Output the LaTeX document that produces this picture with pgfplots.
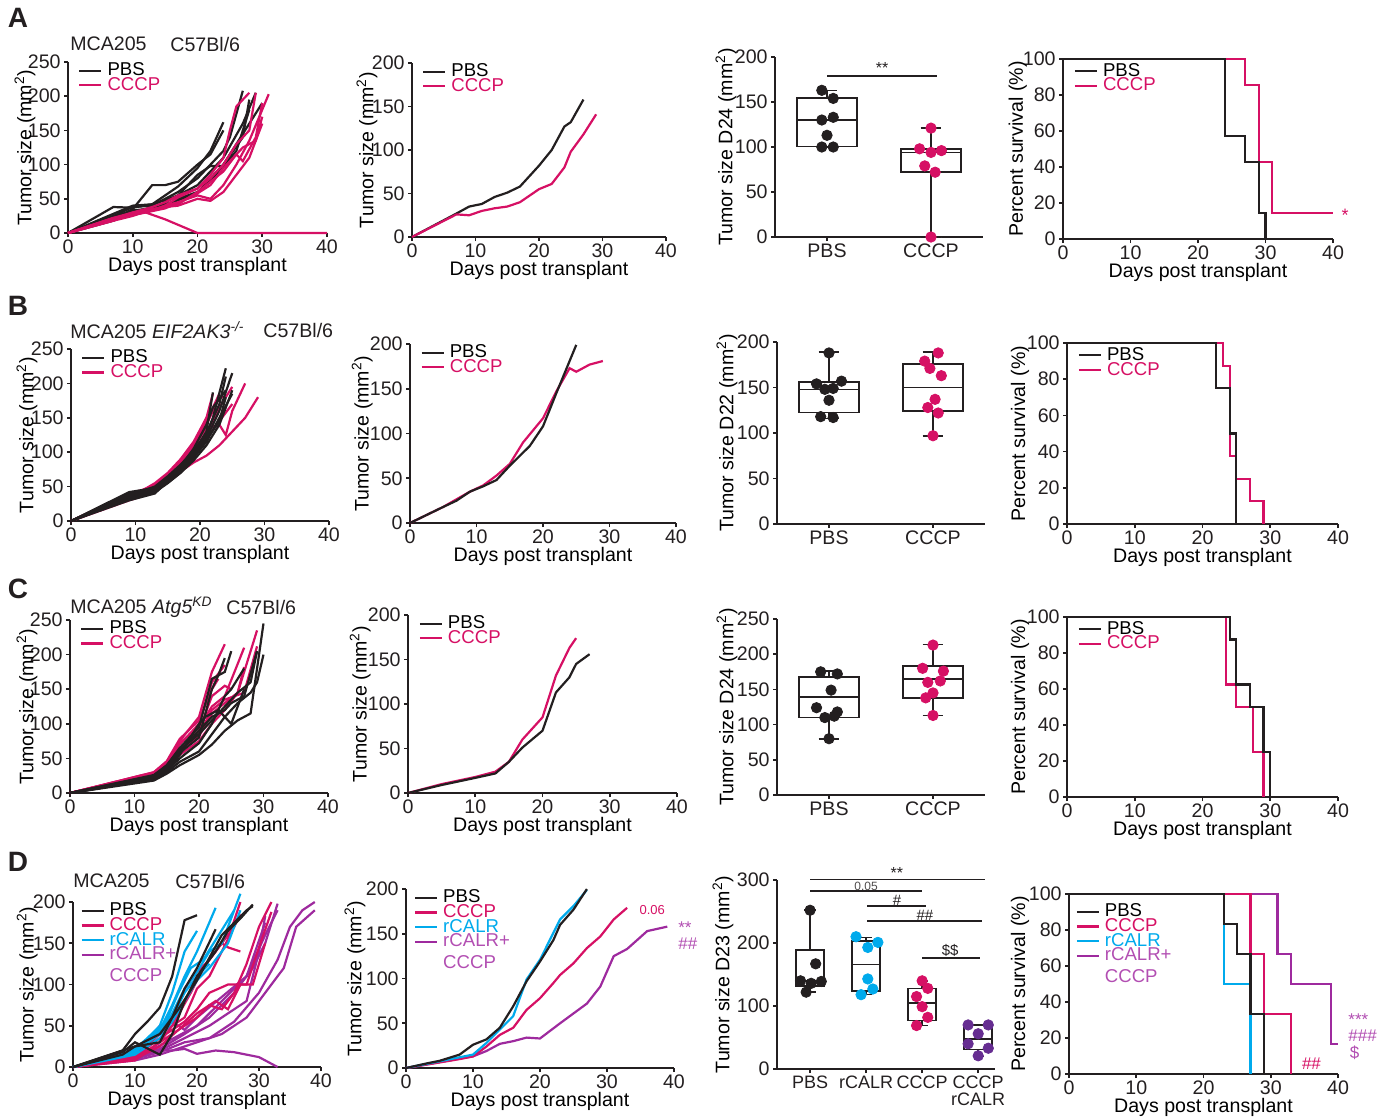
\documentclass[border=0pt]{standalone}
\usepackage{pgfplots}
\pgfplotsset{compat=1.18}
\usepgfplotslibrary{statistics}
\usepackage{fontspec}
\setmainfont{Liberation Sans}
\definecolor{ink}{RGB}{35,31,32}
\definecolor{pk}{RGB}{214,16,100}
\definecolor{cy}{RGB}{0,170,236}
\definecolor{pl}{RGB}{158,42,158}
\definecolor{plT}{RGB}{178,78,178}
\definecolor{dpu}{RGB}{102,45,145}
\pgfplotsset{
  base/.style={scale only axis, anchor=south west, axis lines=left,
    axis line style={-, line width=0.8pt, color=ink},
    tick style={line width=0.8pt, color=ink}, tick align=outside, major tick length=2pt,
    clip=false, font=\fontsize{9.8}{10}\selectfont,
    tick label style={font=\fontsize{9.8}{10}\selectfont, color=ink},
    xticklabel style={inner sep=1.2pt},
    yticklabel style={inner sep=1.5pt},
    label style={font=\fontsize{9.8}{10}\selectfont, color=ink},
    /pgf/number format/assume math mode=true,
    every axis x label/.style={at={(axis description cs:0.5,0)}, anchor=center, yshift=-16.5pt},
    legend style={draw=none, fill=none, inner sep=0pt, outer sep=0pt, row sep=-1.2pt,
      at={(axis description cs:0.04,1.0)}, anchor=north west,
      font=\fontsize{9.3}{10}\selectfont, nodes={inner sep=0.3pt},
      /tikz/every odd column/.append style={column sep=2.2pt}},
    legend cell align=left,
    legend image code/.code={\draw[##1, line width=1.1pt] (0pt,0pt) -- (11pt,0pt);},
    boxplot/draw direction=y,
  },
  yl/.style={every axis y label/.style={at={(axis description cs:-#1,0.5)}, rotate=90, anchor=center}},
  grow/.style={base, xmin=0, xmax=40, ymin=0, xtick={0,10,20,30,40}, xlabel={Days post transplant}, ylabel={Tumor size (mm\textsuperscript{2})}},
  surv/.style={base, xmin=0, xmax=40, ymin=0, ymax=100, xtick={0,10,20,30,40}, ytick={0,20,40,60,80,100}, xlabel={Days post transplant}, ylabel={Percent survival (\%)}},
  bxax/.style={base, xmin=0.5, xmax=2.5, ymin=0, xtick={1,2}, xticklabels={PBS,CCCP}, boxplot/box extend=0.58, boxplot/whisker extend=0.2},
  sP/.style={color=ink, line width=1.1pt},
  sC/.style={color=pk, line width=1.1pt},
  sR/.style={color=cy, line width=1.1pt},
  sRC/.style={color=pl, line width=1.1pt},
  bx/.style={solid, draw=ink, fill=white, line width=0.8pt, mark=none},
  dot/.style={only marks, mark=*, mark size=2.6pt},
}
\begin{document}
\begin{tikzpicture}
\path[use as bounding box] (0pt,0pt) rectangle (690.5pt,-558pt);
% ---------------- A1
\begin{axis}[grow, yl=0.166, at={(34pt,-116.5pt)}, width=129.5pt, height=85.5pt, ymax=250, ytick={0,50,100,150,200,250}]
\addplot[sP,forget plot] coordinates {(0,0)(7,38)(10,37)(13,42)(15,55)(17,68)(20,95)(22,120)(24,162)};
\addplot[sP,forget plot] coordinates {(0,0)(7,20)(10,35)(13,70)(15,70)(17,75)(20,100)(22,115)(24,150)};
\addplot[sP,forget plot] coordinates {(0,0)(7,25)(10,38)(13,40)(15,50)(17,60)(20,80)(22,100)(24,120)(25,140)(27,208)};
\addplot[sP,forget plot] coordinates {(0,0)(7,22)(10,30)(13,35)(15,45)(17,55)(20,70)(22,90)(24,110)(27,160)(29,205)};
\addplot[sP,forget plot] coordinates {(0,0)(7,18)(10,30)(13,38)(15,40)(17,50)(20,60)(22,75)(24,100)(27,140)(28,195)};
\addplot[sP,forget plot] coordinates {(0,0)(7,24)(10,33)(13,36)(15,42)(17,48)(20,58)(22,80)(24,100)(26,130)(29,175)(30,190)};
\addplot[sP,forget plot] coordinates {(0,0)(7,28)(10,40)(13,42)(15,48)(17,55)(20,85)(22,98)(24,98)(26,120)(28,180)};
\addplot[sC,forget plot] coordinates {(0,0)(7,22)(10,28)(12,30)(15,20)(20,0)(40,0)};
\addplot[sC,forget plot] coordinates {(0,0)(7,20)(10,27)(13,33)(15,40)(17,45)(20,55)(22,50)(24,70)(26,100)(28,135)(31,203)};
\addplot[sC,forget plot] coordinates {(0,0)(7,18)(10,25)(13,35)(15,38)(17,40)(20,50)(22,47)(24,60)(26,85)(28,110)(30,160)};
\addplot[sC,forget plot] coordinates {(0,0)(7,20)(10,30)(13,35)(15,38)(17,42)(20,60)(22,75)(24,90)(26,115)(27,105)(29,140)(30,190)};
\addplot[sC,forget plot] coordinates {(0,0)(7,22)(10,30)(13,38)(15,45)(17,55)(20,65)(22,85)(24,110)(25,150)(26,185)(28,205)};
\addplot[sC,forget plot] coordinates {(0,0)(7,18)(10,28)(13,33)(15,40)(17,52)(20,65)(22,80)(24,100)(26,130)(28,150)(29,205)};
\addplot[sC,forget plot] coordinates {(0,0)(7,20)(10,26)(13,32)(15,36)(17,44)(20,58)(22,70)(24,95)(27,125)(29,135)(30,170)};
\addlegendimage{sP}\addlegendentry{PBS}
\addlegendimage{sC}\addlegendentry{\textcolor{pk}{CCCP}}
\end{axis}
% ---------------- A2
\begin{axis}[grow, yl=0.177, at={(206pt,-118.5pt)}, width=127pt, height=87pt, ymax=200, ytick={0,50,100,150,200}]
\addplot[sP,forget plot] coordinates {(0,0)(7,27)(9,35)(11,38)(13,46)(15,51)(17,58)(20,82)(22,100)(24,127)(25,132)(27,158)};
\addplot[sC,forget plot] coordinates {(0,0)(7,26)(9,25)(11,30)(13,33)(15,35)(17,40)(20,55)(22,61)(24,80)(25,98)(27,118)(29,141)};
\addlegendimage{sP}\addlegendentry{PBS}
\addlegendimage{sC}\addlegendentry{\textcolor{pk}{CCCP}}
\end{axis}
% ---------------- A3
\begin{axis}[bxax, yl=0.236, at={(387.5pt,-118.5pt)}, width=104pt, height=90pt, ymax=200, ytick={0,50,100,150,200}, ylabel={Tumor size D24 (mm\textsuperscript{2})}]
\addplot[bx, boxplot prepared={draw position=1, median=130, upper quartile=154.4, lower quartile=100.4, upper whisker=163, lower whisker=100}] coordinates {};
\addplot[bx, boxplot prepared={draw position=2, median=94, upper quartile=98, lower quartile=72, upper whisker=121, lower whisker=0}] coordinates {};
\addplot[dot, color=ink] coordinates {(0.95,163)(1.06,154)(0.95,130)(1.06,133)(1.0,113)(0.95,100)(1.06,100)};
\addplot[dot, color=pk] coordinates {(2.0,121)(1.89,98)(2.0,94)(2.1,96)(1.94,79)(2.04,72)(2.0,0)};
\draw[ink, line width=0.8pt] (axis cs:1.0,179) -- (axis cs:2.06,179);
\node[ink, font=\fontsize{8}{8}\selectfont] at (axis cs:1.53,188) {**};
\end{axis}
% ---------------- A4
\begin{axis}[surv, yl=0.167, at={(531.5pt,-119.5pt)}, width=135pt, height=90pt, legend style={at={(axis description cs:0.04,0.98)}}]
\addplot[sC, const plot, forget plot] coordinates {(0,100)(27,85.7)(29,42.9)(31,14.3)(40,14.3)};
\addplot[sP, const plot, forget plot] coordinates {(0,100)(24,57.1)(27,42.9)(29,14.3)(30,0)};
\node[pk, font=\fontsize{9}{9}\selectfont] at (axis cs:41.8,13) {*};
\addlegendimage{sP}\addlegendentry{PBS}
\addlegendimage{sC}\addlegendentry{\textcolor{pk}{CCCP}}
\end{axis}
% ---------------- B1
\begin{axis}[grow, yl=0.171, at={(35.5pt,-260.5pt)}, width=129pt, height=86pt, ymax=250, ytick={0,50,100,150,200,250}]
\addplot[sC,forget plot] coordinates {(0,0)(9,38)(11,44)(13,55)(15,70)(17,90)(19,115)(21,150)(22,185)};
\addplot[sC,forget plot] coordinates {(0,0)(9,35)(11,42)(13,50)(15,65)(17,82)(19,105)(21,140)(23,180)(24,180)};
\addplot[sC,forget plot] coordinates {(0,0)(9,32)(11,40)(13,52)(15,66)(17,85)(19,108)(21,135)(23,140)(24,125)(25,160)(27,200)};
\addplot[sC,forget plot] coordinates {(0,0)(9,30)(11,36)(13,45)(15,58)(17,72)(19,85)(21,95)(23,110)(25,130)(27,150)(29,180)};
\addplot[sC,forget plot] coordinates {(0,0)(9,36)(11,43)(13,50)(15,68)(17,85)(19,110)(21,145)(23,185)};
\addplot[sC,forget plot] coordinates {(0,0)(9,34)(11,40)(13,48)(15,62)(17,78)(19,100)(21,125)(23,165)(25,195)};
\addplot[sC,forget plot] coordinates {(0,0)(9,40)(11,45)(13,52)(15,68)(17,88)(19,112)(21,150)(22,160)};
\addplot[sC,forget plot] coordinates {(0,0)(9,37)(11,41)(13,46)(15,60)(17,76)(19,95)(21,120)(23,145)(25,170)};
\addplot[sP,forget plot] coordinates {(0,0)(9,42)(11,45)(13,48)(15,62)(17,78)(19,98)(21,125)(22,150)(24,222)};
\addplot[sP,forget plot] coordinates {(0,0)(9,35)(11,40)(13,45)(15,60)(17,75)(19,95)(21,120)(23,160)(25,215)};
\addplot[sP,forget plot] coordinates {(0,0)(9,30)(11,35)(13,40)(15,58)(17,72)(19,92)(21,115)(23,150)(25,185)};
\addplot[sP,forget plot] coordinates {(0,0)(9,38)(11,42)(13,45)(15,60)(17,80)(19,105)(21,140)(22,165)(24,190)};
\addplot[sP,forget plot] coordinates {(0,0)(9,33)(11,38)(13,42)(15,55)(17,70)(19,88)(21,110)(23,140)(25,190)};
\addplot[sP,forget plot] coordinates {(0,0)(9,36)(11,40)(13,46)(15,62)(17,78)(19,100)(21,130)(22,187)};
\addplot[sP,forget plot] coordinates {(0,0)(9,40)(11,44)(13,50)(15,65)(17,82)(19,102)(21,128)(23,170)(24,210)};
\addplot[sP,forget plot] coordinates {(0,0)(9,32)(11,36)(13,44)(15,58)(17,74)(19,94)(21,118)(23,145)(24,180)};
\addlegendimage{sP}\addlegendentry{PBS}
\addlegendimage{sC}\addlegendentry{\textcolor{pk}{CCCP}}
\end{axis}
% ---------------- B2
\begin{axis}[grow, yl=0.18, at={(205pt,-261.5pt)}, width=133pt, height=89.5pt, ymax=200, ytick={0,50,100,150,200}]
\addplot[sC,forget plot] coordinates {(0,0)(5,18)(9,35)(11,42)(13,53)(15,66)(17,90)(20,117)(22,147)(24,173)(25,169)(27,177)(29,181)};
\addplot[sP,forget plot] coordinates {(0,0)(5,18)(7,25)(9,35)(11,41)(13,48)(15,64)(18,86)(20,108)(22,145)(25,199)};
\addlegendimage{sP}\addlegendentry{PBS}
\addlegendimage{sC}\addlegendentry{\textcolor{pk}{CCCP}}
\end{axis}
% ---------------- B3
\begin{axis}[bxax, yl=0.24, at={(388.5pt,-262pt)}, width=104pt, height=91pt, ymax=200, ytick={0,50,100,150,200}, ylabel={Tumor size D22 (mm\textsuperscript{2})}]
\addplot[bx, boxplot prepared={draw position=1, median=148, upper quartile=156, lower quartile=122.5, upper whisker=189, lower whisker=116}] coordinates {};
\addplot[bx, boxplot prepared={draw position=2, median=150, upper quartile=176, lower quartile=124, upper whisker=189, lower whisker=97}] coordinates {};
\addplot[dot, color=ink] coordinates {(1.0,188)(0.88,154)(1.12,157)(0.96,148)(1.04,149)(1.0,136)(0.92,118)(1.04,117)};
\addplot[dot, color=pk] coordinates {(2.05,188)(1.92,179)(1.97,171)(2.08,163)(2.02,137)(1.95,128)(2.05,122)(2.0,97)};
\end{axis}
% ---------------- B4
\begin{axis}[surv, yl=0.173, at={(533.5pt,-262pt)}, width=135.5pt, height=90.5pt, legend style={at={(axis description cs:0.04,0.98)}}]
\addplot[sC, const plot, forget plot] coordinates {(0,100)(23,87.5)(24,37.5)(25,25)(27,12.5)(29,0)};
\addplot[sP, const plot, forget plot] coordinates {(0,100)(22,75)(24,50)(25,0)};
\addlegendimage{sP}\addlegendentry{PBS}
\addlegendimage{sC}\addlegendentry{\textcolor{pk}{CCCP}}
\end{axis}
% ---------------- C1
\begin{axis}[grow, yl=0.167, at={(35pt,-396.5pt)}, width=129pt, height=86.5pt, ymax=250, ytick={0,50,100,150,200,250}]
\addplot[sC,forget plot] coordinates {(0,0)(13,30)(15,45)(17,75)(20,110)(22,175)(24,215)};
\addplot[sC,forget plot] coordinates {(0,0)(13,28)(15,42)(17,70)(20,100)(22,160)(24,185)};
\addplot[sC,forget plot] coordinates {(0,0)(13,27)(15,40)(17,65)(20,90)(22,140)(24,155)(25,150)};
\addplot[sC,forget plot] coordinates {(0,0)(13,29)(15,44)(17,72)(20,95)(22,125)(24,140)(27,210)};
\addplot[sC,forget plot] coordinates {(0,0)(13,26)(15,38)(17,60)(20,82)(22,115)(24,130)(26,145)(29,235)};
\addplot[sC,forget plot] coordinates {(0,0)(13,28)(15,40)(17,62)(20,85)(22,120)(24,135)(27,145)(29,212)};
\addplot[sC,forget plot] coordinates {(0,0)(13,30)(15,46)(17,78)(20,105)(22,150)(23,165)};
\addplot[sC,forget plot] coordinates {(0,0)(13,25)(15,36)(17,55)(20,75)(22,100)(24,120)(26,145)(27,182)};
\addplot[sP,forget plot] coordinates {(0,0)(13,20)(15,30)(17,45)(20,60)(22,85)(24,110)(26,130)(28,145)(29,160)(30,200)};
\addplot[sP,forget plot] coordinates {(0,0)(13,18)(15,28)(17,40)(20,55)(22,70)(24,90)(26,105)(28,115)(30,245)};
\addplot[sP,forget plot] coordinates {(0,0)(13,22)(15,35)(17,60)(20,90)(22,110)(24,120)(25,130)(27,140)(29,205)};
\addplot[sP,forget plot] coordinates {(0,0)(13,25)(15,40)(17,65)(20,95)(22,165)(24,175)(25,205)};
\addplot[sP,forget plot] coordinates {(0,0)(13,24)(15,38)(17,58)(20,80)(22,150)(23,170)(24,195)};
\addplot[sP,forget plot] coordinates {(0,0)(13,20)(15,32)(17,50)(20,72)(22,100)(24,140)(25,150)(27,180)};
\addplot[sP,forget plot] coordinates {(0,0)(13,22)(15,34)(17,55)(20,100)(21,110)(23,120)(25,100)(27,150)};
\addplot[sP,forget plot] coordinates {(0,0)(13,26)(15,40)(17,62)(20,85)(22,105)(24,125)(26,145)(28,160)(29,205)};
\addlegendimage{sP}\addlegendentry{PBS}
\addlegendimage{sC}\addlegendentry{\textcolor{pk}{CCCP}}
\end{axis}
% ---------------- C2
\begin{axis}[grow, yl=0.178, at={(204pt,-396.5pt)}, width=134.5pt, height=89pt, ymax=200, ytick={0,50,100,150,200}]
\addplot[sC,forget plot] coordinates {(0,0)(5,10)(10,18)(13,24)(15,35)(17,60)(20,85)(22,132)(24,163)(25,174)};
\addplot[sP,forget plot] coordinates {(0,0)(5,9)(10,17)(13,22)(15,35)(17,51)(20,70)(22,113)(24,130)(25,145)(27,156)};
\addlegendimage{sP}\addlegendentry{PBS}
\addlegendimage{sC}\addlegendentry{\textcolor{pk}{CCCP}}
\end{axis}
% ---------------- C3
\begin{axis}[bxax, yl=0.24, at={(388.5pt,-397.5pt)}, width=104pt, height=88pt, ymax=250, ytick={0,50,100,150,200,250}, ylabel={Tumor size D24 (mm\textsuperscript{2})}]
\addplot[bx, boxplot prepared={draw position=1, median=139, upper quartile=168, lower quartile=110, upper whisker=176, lower whisker=80}] coordinates {};
\addplot[bx, boxplot prepared={draw position=2, median=165, upper quartile=183, lower quartile=138, upper whisker=214, lower whisker=113}] coordinates {};
\addplot[dot, color=ink] coordinates {(0.92,175)(1.08,172)(1.02,149)(0.88,124)(1.08,118)(0.96,110)(1.05,112)(1.0,80)};
\addplot[dot, color=pk] coordinates {(2.0,213)(1.9,180)(2.1,176)(1.95,160)(2.07,162)(2.0,145)(1.93,138)(2.0,113)};
\end{axis}
% ---------------- C4
\begin{axis}[surv, yl=0.173, at={(533.5pt,-398.5pt)}, width=135.5pt, height=90pt, legend style={at={(axis description cs:0.04,0.98)}}]
\addplot[sC, const plot, forget plot] coordinates {(0,100)(23.5,62.5)(25,50)(27.5,25)(29,0)};
\addplot[sP, const plot, forget plot] coordinates {(0,100)(24,87.5)(25,62.5)(27,50)(29,25)(30,0)};
\addlegendimage{sP}\addlegendentry{PBS}
\addlegendimage{sC}\addlegendentry{\textcolor{pk}{CCCP}}
\end{axis}
% ---------------- D1
\begin{axis}[grow, yl=0.185, at={(36.5pt,-533.5pt)}, width=124pt, height=82.5pt, ymax=200, ytick={0,50,100,150,200}, legend style={at={(axis description cs:0.03,1.0)}}]
\addplot[sRC,forget plot] coordinates {(0,0)(8,10)(12,20)(16,20)(18,22)(20,16)(23,20)(26,18)(30,12)(33,0)};
\addplot[sRC,forget plot] coordinates {(0,0)(10,8)(14,15)(18,25)(20,30)(24,40)(28,60)(32,100)(34,120)(36,170)(39,190)};
\addplot[sRC,forget plot] coordinates {(0,0)(10,10)(14,18)(18,30)(22,35)(26,55)(30,90)(33,130)(35,170)(37,190)(39,200)};
\addplot[sRC,forget plot] coordinates {(0,0)(10,12)(14,20)(18,35)(22,50)(25,65)(28,80)(30,140)(31,183)};
\addplot[sRC,forget plot] coordinates {(0,0)(10,12)(14,50)(16,55)(18,45)(20,60)(24,85)(28,110)(31,175)};
\addplot[sRC,forget plot] coordinates {(0,0)(10,10)(14,22)(18,40)(22,60)(26,90)(29,120)(31,150)(33,198)};
\addplot[sRC,forget plot] coordinates {(0,0)(10,10)(15,30)(20,50)(24,80)(28,110)(31,160)(33,190)};
\addplot[sC,forget plot] coordinates {(0,0)(10,12)(14,40)(16,55)(18,95)(20,115)(22,130)(24,150)(25,145)(27,140)};
\addplot[sC,forget plot] coordinates {(0,0)(10,10)(14,30)(16,50)(18,60)(20,95)(22,110)(25,155)(27,200)};
\addplot[sC,forget plot] coordinates {(0,0)(10,12)(14,35)(16,45)(18,55)(20,70)(22,90)(25,100)(28,100)(30,145)(32,188)};
\addplot[sC,forget plot] coordinates {(0,0)(10,8)(14,30)(16,40)(18,50)(20,60)(22,75)(24,70)(26,90)(28,125)(30,170)(32,200)};
\addplot[sC,forget plot] coordinates {(0,0)(10,10)(14,25)(17,45)(20,65)(23,80)(25,70)(27,100)(29,100)(31,150)};
\addplot[sC,forget plot] coordinates {(0,0)(10,14)(13,35)(16,50)(19,90)(21,120)(23,140)(26,170)(27,185)};
\addplot[sR,forget plot] coordinates {(0,0)(8,15)(10,22)(12,35)(14,50)(16,90)(18,140)(20,165)};
\addplot[sR,forget plot] coordinates {(0,0)(10,20)(14,45)(16,75)(18,110)(20,140)(23,193)};
\addplot[sR,forget plot] coordinates {(0,0)(10,18)(14,40)(16,65)(18,95)(20,115)(22,140)(24,150)(27,210)};
\addplot[sR,forget plot] coordinates {(0,0)(10,15)(14,35)(16,55)(18,80)(20,105)(22,120)(25,150)(27,190)};
\addplot[sR,forget plot] coordinates {(0,0)(10,20)(12,30)(14,42)(16,60)(18,90)(20,110)(22,125)};
\addplot[sR,forget plot] coordinates {(0,0)(10,17)(13,40)(15,55)(17,90)(19,120)(21,130)(26,190)};
\addplot[sP,forget plot] coordinates {(0,0)(8,20)(10,40)(12,55)(14,72)(16,110)(18,178)(20,184)};
\addplot[sP,forget plot] coordinates {(0,0)(8,15)(10,25)(14,30)(16,60)(18,95)(20,120)(23,167)};
\addplot[sP,forget plot] coordinates {(0,0)(8,18)(10,30)(14,15)(16,40)(18,80)(20,110)(23,140)(25,165)(27,180)(29,197)};
\addplot[sP,forget plot] coordinates {(0,0)(10,25)(14,40)(17,70)(20,105)(24,160)(28,190)(29,195)};
\addlegendimage{sP}\addlegendentry{PBS}
\addlegendimage{sC}\addlegendentry{\textcolor{pk}{CCCP}}
\addlegendimage{sR}\addlegendentry{\textcolor{cy}{rCALR}}
\addlegendimage{sRC}\addlegendentry{\textcolor{plT}{rCALR+}}
\addlegendimage{empty legend}\addlegendentry{\rule{0pt}{10pt}\textcolor{plT}{CCCP}}
\end{axis}
% ---------------- D2
\begin{axis}[grow, yl=0.19, at={(203pt,-534pt)}, width=134pt, height=89.5pt, ymax=200, ytick={0,50,100,150,200}, legend style={at={(axis description cs:0.03,1.0)}}]
\addplot[sRC,forget plot] coordinates {(0,0)(10,13)(12,19)(14,27)(16,30)(18,34)(20,33)(23,50)(25,61)(27,72)(29,91)(31,125)(33,133)(36,153)(39,158)};
\addplot[sC,forget plot] coordinates {(0,0)(8,10)(10,13)(12,24)(14,37)(16,45)(18,65)(20,78)(22,95)(23,104)(25,117)(27,134)(29,147)(31,166)(33,179)};
\addplot[sR,forget plot] coordinates {(0,0)(8,12)(10,15)(12,28)(14,43)(16,58)(18,99)(20,121)(23,166)(25,181)(27,199)};
\addplot[sP,forget plot] coordinates {(0,0)(3,5)(5,8)(8,15)(10,26)(12,32)(14,45)(16,69)(18,97)(20,119)(22,143)(23,160)(25,177)(27,200)};
\node[pk, anchor=west, font=\fontsize{6.5}{7}\selectfont] at (axis cs:33.8,177) {0.06};
\node[plT, anchor=west, font=\fontsize{8.5}{8}\selectfont] at (axis cs:39.6,157) {**};
\node[plT, anchor=west, font=\fontsize{8.5}{8}\selectfont] at (axis cs:39.6,139) {\#\#};
\addlegendimage{sP}\addlegendentry{PBS}
\addlegendimage{sC}\addlegendentry{\textcolor{pk}{CCCP}}
\addlegendimage{sR}\addlegendentry{\textcolor{cy}{rCALR}}
\addlegendimage{sRC}\addlegendentry{\textcolor{plT}{rCALR+}}
\addlegendimage{empty legend}\addlegendentry{\rule{0pt}{10pt}\textcolor{plT}{CCCP}}
\end{axis}
% ---------------- D3
\begin{axis}[base, yl=0.248, at={(388.5pt,-534.5pt)}, width=109pt, height=94.5pt, xmin=0.41, xmax=4.3, ymin=0, ymax=300, ytick={0,100,200,300}, xtick={1,2,3,4}, xticklabels={PBS,rCALR,CCCP,{CCCP\\rCALR}}, x tick label style={align=center, font=\fontsize{9}{8.5}\selectfont}, boxplot/box extend=0.5, boxplot/whisker extend=0.2, ylabel={Tumor size D23 (mm\textsuperscript{2})}]
\addplot[bx, boxplot prepared={draw position=1, median=140, upper quartile=189, lower quartile=132, upper whisker=252, lower whisker=122}] coordinates {};
\addplot[bx, boxplot prepared={draw position=2, median=166, upper quartile=203, lower quartile=124, upper whisker=209, lower whisker=118}] coordinates {};
\addplot[bx, boxplot prepared={draw position=3, median=105, upper quartile=128, lower quartile=77, upper whisker=140, lower whisker=69}] coordinates {};
\addplot[bx, boxplot prepared={draw position=4, median=47.5, upper quartile=70, lower quartile=31, upper whisker=70, lower whisker=20}] coordinates {};
\addplot[dot, color=ink] coordinates {(1.0,252)(1.1,167)(0.83,140)(1.02,136)(1.2,139)(0.93,122)};
\addplot[dot, color=cy] coordinates {(1.82,210)(2.21,201)(2.03,193)(2.03,143)(2.12,127)(1.91,118)};
\addplot[dot, color=pk] coordinates {(3.0,140)(2.9,115)(3.1,128)(3.0,99)(3.1,82)(2.9,69)};
\addplot[dot, color=dpu] coordinates {(3.82,70)(4.18,70)(4.0,56)(3.82,40)(4.18,33)(4.0,21)};
\draw[ink, line width=0.8pt] (axis cs:1,301) -- (axis cs:4.12,301);
\node[ink, font=\fontsize{8}{8}\selectfont] at (axis cs:2.55,311) {**};
\draw[ink, line width=0.8pt] (axis cs:1,283) -- (axis cs:3.0,283);
\node[ink!80, font=\fontsize{6}{6}\selectfont] at (axis cs:2.0,290) {0.05};
\draw[ink, line width=0.8pt] (axis cs:2.02,259) -- (axis cs:3.07,259);
\node[ink, font=\fontsize{7.5}{7.5}\selectfont] at (axis cs:2.55,268) {\#};
\draw[ink, line width=0.8pt] (axis cs:2.02,235) -- (axis cs:4.07,235);
\node[ink, font=\fontsize{7.5}{7.5}\selectfont] at (axis cs:3.05,244) {\#\#};
\draw[ink, line width=0.8pt] (axis cs:3.0,176) -- (axis cs:4.04,176);
\node[ink, font=\fontsize{7.5}{7.5}\selectfont] at (axis cs:3.5,188) {\$\$};
\end{axis}
% ---------------- D4
\begin{axis}[surv, yl=0.182, at={(534.5pt,-537pt)}, width=134.5pt, height=90pt, legend style={at={(axis description cs:0.025,0.95)}}]
\addplot[sRC, const plot, forget plot] coordinates {(0,100)(31,66.7)(33,50)(39,16.7)(40,16.7)};
\addplot[sC, const plot, forget plot] coordinates {(0,100)(27,66.7)(29,33.3)(33,0)};
\addplot[sR, const plot, forget plot] coordinates {(0,100)(23,50)(27,0)};
\addplot[sP, const plot, forget plot] coordinates {(0,100)(23,83.3)(25,66.7)(27,33.3)(29,0)};
\node[pk, anchor=west, font=\fontsize{8.5}{8}\selectfont] at (axis cs:33.6,6) {\#\#};
\node[plT, anchor=west, font=\fontsize{8.5}{8}\selectfont] at (axis cs:40.5,30) {***};
\node[plT, anchor=west, font=\fontsize{8.5}{8}\selectfont] at (axis cs:40.5,21.5) {\#\#\#};
\node[plT, anchor=west, font=\fontsize{8.5}{8}\selectfont] at (axis cs:40.7,12) {\$};
\addlegendimage{sP}\addlegendentry{PBS}
\addlegendimage{sC}\addlegendentry{\textcolor{pk}{CCCP}}
\addlegendimage{sR}\addlegendentry{\textcolor{cy}{rCALR}}
\addlegendimage{sRC}\addlegendentry{\textcolor{plT}{rCALR+}}
\addlegendimage{empty legend}\addlegendentry{\rule{0pt}{10pt}\textcolor{plT}{CCCP}}
\end{axis}
% ---------------- text
\begin{scope}[x=0.5pt,y=-0.5pt, every node/.style={font=\fontsize{9.8}{10}\selectfont, text=ink, inner sep=0pt}]
\node[font=\fontsize{14}{14}\selectfont\bfseries] at (18,18) {A};
\node[font=\fontsize{14}{14}\selectfont\bfseries] at (18,306) {B};
\node[font=\fontsize{14}{14}\selectfont\bfseries] at (18,589) {C};
\node[font=\fontsize{14}{14}\selectfont\bfseries] at (18,862) {D};
\node[anchor=west] at (70,44) {MCA205};
\node[anchor=west] at (170,44) {C57Bl/6};
\node[anchor=west] at (70,330) {MCA205 \textit{EIF2AK3}\textsuperscript{\textit{-/-}}};
\node[anchor=west] at (263,330) {C57Bl/6};
\node[anchor=west] at (70,607) {MCA205 \textit{Atg5}\textsuperscript{\textit{KD}}};
\node[anchor=west] at (226,607) {C57Bl/6};
\node[anchor=west] at (73,881) {MCA205};
\node[anchor=west] at (175,881) {C57Bl/6};
\end{scope}
\end{tikzpicture}
\end{document}
